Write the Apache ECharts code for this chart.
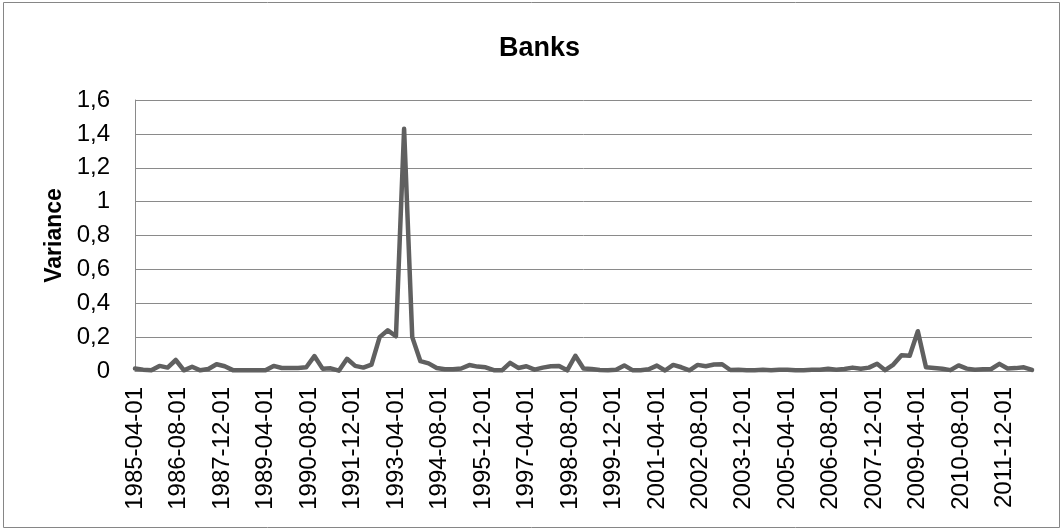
<!DOCTYPE html>
<html>
<head>
<meta charset="utf-8">
<title>Banks</title>
<script src="https://cdn.jsdelivr.net/npm/echarts@6/dist/echarts.min.js"></script>
<style>
  html, body { margin: 0; padding: 0; background: #ffffff; }
  #chart { width: 1062px; height: 530px; }
</style>
</head>
<body>
<div id="chart"></div>
<script>
// Quarterly observations, first one dated 1985-04-01, one every 3 months.
const startYear = 1985;
const startMonth = 4;
const stepMonths = 3;

// Variance per quarter (1985-04 … 2012-10)
const variance = [
  0.015, 0.008, 0.004, 0.030, 0.020, 0.065, 0.004, 0.025, 0.004, 0.012,
  0.040, 0.028, 0.005, 0.004, 0.004, 0.005, 0.004, 0.030, 0.018, 0.018,
  0.018, 0.022, 0.088, 0.014, 0.016, 0.002, 0.072, 0.030, 0.020, 0.038,
  0.200, 0.240, 0.205, 1.430, 0.200, 0.058, 0.045, 0.018, 0.010, 0.010,
  0.015, 0.035, 0.026, 0.022, 0.005, 0.004, 0.048, 0.018, 0.028, 0.008,
  0.020, 0.028, 0.030, 0.004, 0.090, 0.015, 0.012, 0.006, 0.005, 0.008,
  0.033, 0.005, 0.004, 0.010, 0.032, 0.003, 0.036, 0.022, 0.004, 0.036,
  0.028, 0.038, 0.040, 0.006, 0.008, 0.005, 0.005, 0.008, 0.005, 0.008,
  0.008, 0.005, 0.005, 0.008, 0.008, 0.013, 0.008, 0.012, 0.020, 0.013,
  0.020, 0.043, 0.005, 0.038, 0.093, 0.090, 0.235, 0.022, 0.018, 0.013,
  0.005, 0.033, 0.014, 0.008, 0.010, 0.012, 0.042, 0.015, 0.017, 0.022,
  0.006
];

// Axis settings: date labels every 16 months, value ticks every 0.2
const labelStepMonths = 16;
const yTicks = [0, 0.2, 0.4, 0.6, 0.8, 1, 1.2, 1.4, 1.6];

const spanMonths = (variance.length - 1) * stepMonths;
const points = variance.map((v, i) => [i * stepMonths, v]);

function monthLabel(offset) {
  const total = (startMonth - 1) + Math.round(offset);
  const y = startYear + Math.floor(total / 12);
  const m = (total % 12) + 1;
  return y + '-' + (m < 10 ? '0' + m : '' + m) + '-01';
}

function commaDecimal(v) {
  return String(Number(v.toFixed(1))).replace('.', ',');
}

const gridColor = '#8a8a8a';
const textFont = '"Liberation Sans", Arial, sans-serif';

const chart = echarts.init(document.getElementById('chart'), null, { renderer: 'canvas' });

chart.setOption({
  animation: false,
  backgroundColor: '#ffffff',
  title: {
    text: 'Banks',
    left: 494,
    top: 30,
    textStyle: {
      fontFamily: textFont,
      fontWeight: 'bold',
      fontSize: 27,
      color: '#000000'
    }
  },
  graphic: [{
    type: 'rect',
    shape: { x: 3.5, y: 2.5, width: 1056, height: 525 },
    style: { fill: 'none', stroke: '#868686', lineWidth: 1 },
    silent: true
  }],
  grid: {
    left: 135,
    right: 30,
    top: 100,
    bottom: 159,
    containLabel: false
  },
  xAxis: {
    type: 'value',
    min: 0,
    max: spanMonths,
    interval: labelStepMonths,
    splitLine: { show: false },
    axisTick: { show: false },
    axisLine: { show: true, lineStyle: { color: gridColor, width: 1 } },
    axisLabel: {
      rotate: 90,
      margin: 16,
      showMaxLabel: false,
      fontFamily: textFont,
      fontSize: 24,
      color: '#000000',
      formatter: (v) => monthLabel(v)
    }
  },
  yAxis: {
    type: 'value',
    min: yTicks[0],
    max: yTicks[yTicks.length - 1],
    interval: 0.2,
    name: 'Variance',
    nameLocation: 'middle',
    nameGap: 68,
    nameTextStyle: {
      fontFamily: textFont,
      fontWeight: 'bold',
      fontSize: 23,
      color: '#000000'
    },
    axisLine: { show: true, lineStyle: { color: gridColor, width: 1 } },
    axisTick: { show: false },
    splitLine: { show: true, lineStyle: { color: gridColor, width: 1 } },
    axisLabel: {
      margin: 25,
      fontFamily: textFont,
      fontSize: 24,
      color: '#000000',
      formatter: (v) => commaDecimal(v)
    }
  },
  series: [{
    name: 'Banks',
    type: 'line',
    data: points,
    showSymbol: false,
    symbol: 'none',
    lineStyle: { color: '#606060', width: 4.5, join: 'round', cap: 'round' },
    z: 3
  }]
});
</script>
</body>
</html>
